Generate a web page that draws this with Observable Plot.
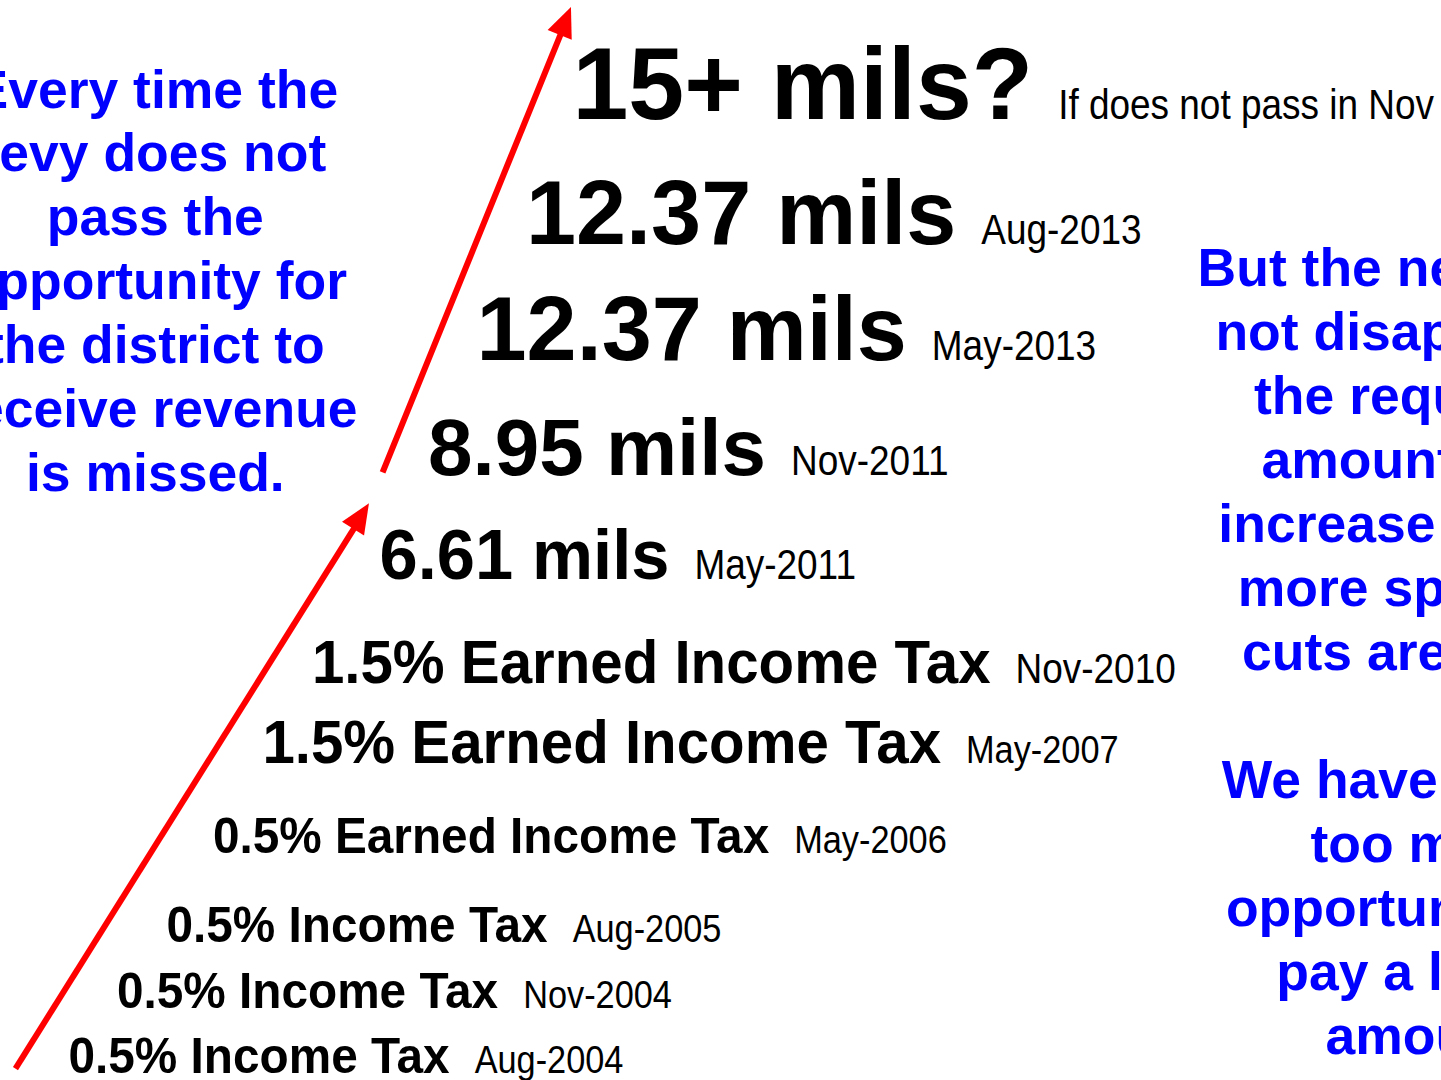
<!DOCTYPE html>
<html><head><meta charset="utf-8">
<script src="https://cdn.jsdelivr.net/npm/d3@7"></script>
<script src="https://cdn.jsdelivr.net/npm/@observablehq/plot@0.6"></script>
<style>html,body{margin:0;padding:0;overflow:hidden;background:#fff}</style>
</head><body>
<script>
// ---- data ----
const measures = ["0.5% Income Tax", "0.5% Income Tax", "0.5% Income Tax", "0.5% Earned Income Tax",
  "1.5% Earned Income Tax", "1.5% Earned Income Tax", "6.61 mils", "8.95 mils", "12.37 mils", "12.37 mils", "15+ mils?"];
const dates = ["Aug-2004", "Nov-2004", "Aug-2005", "May-2006", "May-2007", "Nov-2010",
  "May-2011", "Nov-2011", "May-2013", "Aug-2013", "If does not pass in Nov"];
const indents = [-0.04, 0.92, 1.90, 2.82, 3.80, 4.78, 6.12, 7.08, 8.04, 9.02, 9.94];
const levels = [0.65, 6.67, 12.78, 21.11, 29.44, 36.76, 46.48, 56.02, 66.67, 77.5, 89.07];
const arrowStart = [[-1.09, 1.1], [6.18, 56.3]];
const arrowEnd = [[5.92, 53.4], [9.92, 99.35]];
const leftNote = ["Every time the", "levy does not", "pass the", "opportunity for", "the district to", "receive revenue", "is missed."];
const rightNote = ["But the need does", "not disappear so", "the requested", "amount must", "increase and the", "more spending", "cuts are made."];
const rightNote2 = ["We have missed", "too many", "opportunities to", "pay a lesser", "amount."];

// ---- styling (code) ----
const FONT = "'Liberation Sans', Arial, Helvetica, sans-serif";
const labelSizes = [50, 50, 50, 50, 61, 61, 70, 80, 90, 90, 102];
const labelStretch = [0.955, 0.955, 0.955, 0.955, 0.955, 0.955, 0.98, 1.0, 1.0, 1.0, 0.985];
const dateSizes = [39, 39, 39, 39, 39, 42, 42, 42, 42, 42, 42];
const dateStretch = 0.88, dateGap = 25;

const table = measures.map((m, i) => ({rank: i, indent: indents[i], level: levels[i], measure: m, date: dates[i]}));
const arrows = arrowStart.map((a, i) => ({x1: a[0], y1: a[1], x2: arrowEnd[i][0], y2: arrowEnd[i][1]}));
const notes = [
  {x: 1.68, y: 94.3, text: leftNote.join("\n")},
  {x: 26.91, y: 77.8, text: rightNote.join("\n")},
  {x: 26.91, y: 30.4, text: rightNote2.join("\n")}
];

const heads = (index, scales) => {
  const g = d3.create("svg:g").attr("aria-label", "arrow heads");
  for (const a of arrows) {
    const x1 = scales.x(a.x1), y1 = scales.y(a.y1), x2 = scales.x(a.x2), y2 = scales.y(a.y2);
    const ang = Math.atan2(y2 - y1, x2 - x1);
    const L = 30, W = 13;
    const bx = x2 - L * Math.cos(ang), by = y2 - L * Math.sin(ang);
    const px = -Math.sin(ang) * W, py = Math.cos(ang) * W;
    g.append("path")
      .attr("d", `M${x2},${y2}L${bx + px},${by + py}L${bx - px},${by - py}Z`)
      .attr("fill", "#ff0000");
  }
  return g.node();
};

const plot = Plot.plot({
  width: 1441, height: 1080, margin: 0,
  x: {domain: [0, 10], range: [70, 575], axis: null},
  y: {domain: [0, 100], range: [1080, 0], axis: null},
  style: {background: "white", fontFamily: FONT},
  marks: [
    Plot.arrow(arrows, {x1: "x1", y1: "y1", x2: "x2", y2: "y2", stroke: "#ff0000", strokeWidth: 6, headLength: 0, insetEnd: 24, strokeLinecap: "butt"}),
    heads,
    Plot.text(table, {x: "indent", y: "level", text: "measure", textAnchor: "start", lineAnchor: "bottom",
      fontWeight: "bold", fontSize: d => labelSizes[d.rank], fill: "black"}),
    Plot.text(table, {x: "indent", y: "level", text: "date", textAnchor: "start", lineAnchor: "bottom",
      fontSize: d => dateSizes[d.rank], fill: "black"}),
    Plot.text(notes, {x: "x", y: "y", text: "text", textAnchor: "middle", lineAnchor: "top",
      fontWeight: "bold", fontSize: 53.5, lineHeight: 64 / 53.5, fill: "#0000ff"})
  ]
});
document.body.append(plot);

// condense labels and place the dates right after each label
const xs = plot.scale("x"), ys = plot.scale("y");
const textGroups = d3.select(plot).selectAll('g[aria-label="text"]').nodes();
const mEls = d3.select(textGroups[0]).selectAll("text").nodes();
const dEls = d3.select(textGroups[1]).selectAll("text").nodes();
mEls.forEach((el, i) => {
  const px = xs.apply(table[i].indent), py = ys.apply(table[i].level);
  el.setAttribute("transform", `translate(${px},${py}) scale(${labelStretch[i]},1)`);
  const w = el.getComputedTextLength() * labelStretch[i];
  if (dEls[i]) dEls[i].setAttribute("transform", `translate(${px + w + dateGap},${py}) scale(${dateStretch},1)`);
});
</script>
</body></html>
